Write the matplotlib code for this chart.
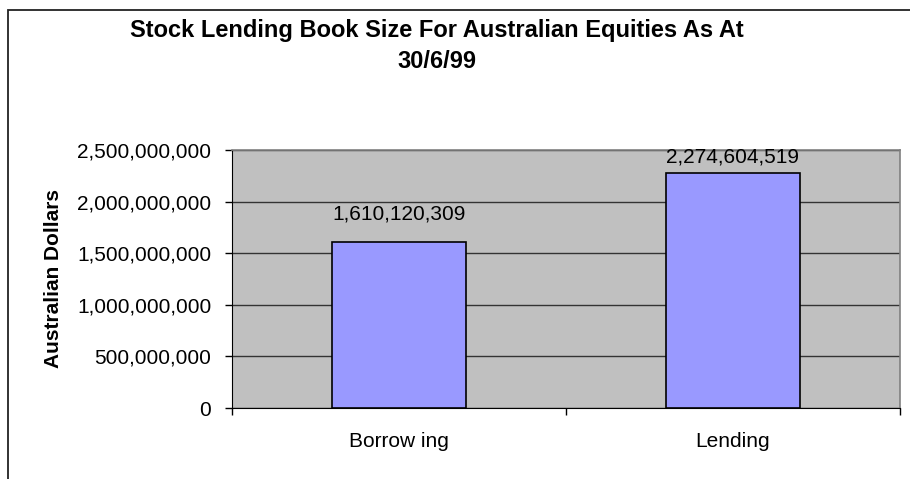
import matplotlib
matplotlib.use('Agg')
import matplotlib.pyplot as plt
from matplotlib.patches import Rectangle
from matplotlib.ticker import FuncFormatter

# data
categories = ['Borrow ing', 'Lending']
values = [1610120309, 2274604519]
y_ticks = [0, 500000000, 1000000000, 1500000000, 2000000000, 2500000000]

plt.rcParams['font.family'] = ['Liberation Sans', 'DejaVu Sans']

fig = plt.figure(figsize=(9.1, 4.79), dpi=100)
W, H = 910, 479

# outer chart frame (cut off at right and bottom)
fig.patches.append(Rectangle((8 / W, -0.2), 1.2, 1.2 - 10 / H, transform=fig.transFigure,
                             fill=False, edgecolor='#222222', linewidth=1.3, clip_on=False))

ax = fig.add_axes([232 / W, 1 - 408 / H, (900 - 232) / W, (408 - 150) / H])
ax.set_facecolor('#C0C0C0')

x = list(range(len(categories)))
bars = ax.bar(x, values, width=0.4, color='#9999FF', edgecolor='black', linewidth=1.2, zorder=3)

ax.set_xlim(-0.5, 1.5)
ax.set_ylim(0, 2500000000)
ax.set_yticks(y_ticks)
ax.yaxis.set_major_formatter(FuncFormatter(lambda v, p: f'{int(v):,}'))
ax.yaxis.grid(True, color='#333333', linewidth=1.0, zorder=1)
ax.set_axisbelow(True)

# category ticks sit at the boundaries, labels at the centres
ax.set_xticks([-0.5, 0.5, 1.5])
ax.set_xticklabels([])
ax.set_xticks(x, minor=True)
ax.set_xticklabels(categories, minor=True)
ax.tick_params(axis='x', which='major', direction='out', length=5, width=1, color='black')
ax.tick_params(axis='x', which='minor', length=0, pad=17, labelsize=15)
ax.tick_params(axis='y', direction='out', length=5, width=1, pad=10, labelsize=15)

for side in ['top', 'right']:
    ax.spines[side].set_color('#808080')
    ax.spines[side].set_linewidth(1.2)
ax.spines['left'].set_color('black')
ax.spines['bottom'].set_color('black')

ax.set_ylabel('Australian Dollars', fontsize=15, fontweight='bold', labelpad=10)

# value labels above the bars
offsets = [13, 5]
for b, v, off in zip(bars, values, offsets):
    ax.annotate(f'{v:,}', (b.get_x() + b.get_width() / 2, v), xytext=(0, off),
                textcoords='offset points', ha='center', va='bottom', fontsize=15)

fig.text(437 / W, 1 - 46 / H, 'Stock Lending Book Size For Australian Equities As At\n30/6/99',
         ha='center', va='center', fontsize=17, fontweight='bold', linespacing=1.45)

fig.savefig('out.png', dpi=100)
